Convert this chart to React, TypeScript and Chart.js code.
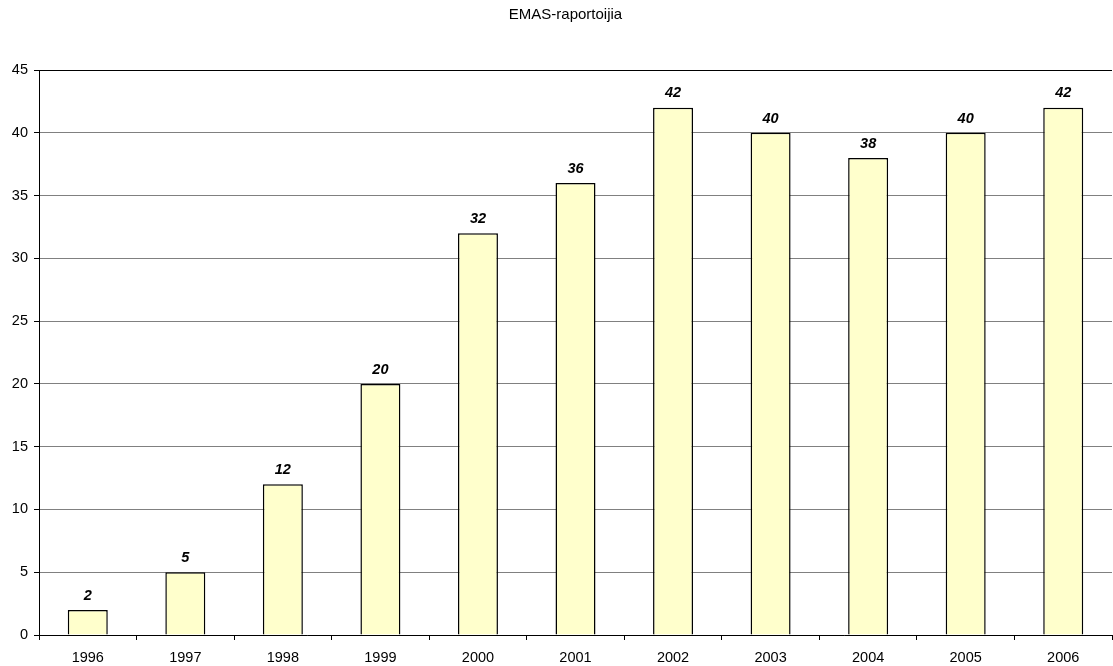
import React, { useEffect, useRef } from "react";
import { Chart, registerables } from "chart.js";

Chart.register(...registerables);

const title = "EMAS-raportoijia";
const years = ["1996", "1997", "1998", "1999", "2000", "2001", "2002", "2003", "2004", "2005", "2006"];
const reporters = [2, 5, 12, 20, 32, 36, 42, 40, 38, 40, 42];
const yTicks = [0, 5, 10, 15, 20, 25, 30, 35, 40, 45];

const FONT = "'Liberation Sans', Arial, sans-serif";

const valueLabels = {
  id: "valueLabels",
  afterDatasetsDraw(chart: any) {
    const ctx = chart.ctx;
    const meta = chart.getDatasetMeta(0);
    ctx.save();
    ctx.font = `italic bold 14.5px ${FONT}`;
    ctx.fillStyle = "#000";
    ctx.textAlign = "center";
    ctx.textBaseline = "bottom";
    meta.data.forEach((bar: any, i: number) => {
      ctx.fillText(String(reporters[i]), bar.x, bar.y - 7);
    });
    ctx.restore();
  },
};

const chartTitle = {
  id: "chartTitle",
  afterDraw(chart: any) {
    const ctx = chart.ctx;
    ctx.save();
    ctx.font = `15px ${FONT}`;
    ctx.fillStyle = "#000";
    ctx.textAlign = "center";
    ctx.textBaseline = "middle";
    ctx.fillText(title, 565.5, 14.5);
    ctx.restore();
  },
};

export default function App() {
  const ref = useRef<HTMLCanvasElement>(null);
  useEffect(() => {
    document.body.style.margin = "0";
    const chart = new Chart(ref.current!, {
      type: "bar",
      data: {
        labels: years,
        datasets: [
          {
            data: reporters,
            backgroundColor: "#FFFFCC",
            borderColor: "#000",
            borderWidth: 1.5,
            barPercentage: 0.41,
            categoryPercentage: 1,
          },
        ],
      },
      options: {
        animation: false,
        responsive: false,
        layout: { padding: { left: 0, right: 1, top: 70, bottom: 0 } },
        plugins: {
          legend: { display: false },
          tooltip: { enabled: false },
          title: { display: false },
        },
        scales: {
          x: {
            offset: true,
            grid: {
              offset: true,
              drawOnChartArea: false,
              drawTicks: true,
              tickLength: 5,
              tickColor: "#000",
            },
            border: { color: "#000", width: 1 },
            ticks: {
              color: "#000",
              font: { family: FONT, size: 14.5 },
              padding: 9,
              maxRotation: 0,
            },
            afterFit(scale: any) {
              scale.height = 31;
            },
          },
          y: {
            min: 0,
            max: 45,
            afterBuildTicks(scale: any) {
              scale.ticks = yTicks.map((v) => ({ value: v }));
            },
            grid: {
              color: (c: any) => (c.tick && c.tick.value === 45 ? "#000" : "#808080"),
              tickColor: "#000",
              tickLength: 5,
            },
            border: { color: "#000", width: 1 },
            ticks: {
              color: "#000",
              font: { family: FONT, size: 14.5 },
              padding: 6,
            },
            afterFit(scale: any) {
              scale.width = 39;
            },
          },
        },
      },
      plugins: [valueLabels, chartTitle],
    });
    return () => chart.destroy();
  }, []);
  return (
    <div style={{ position: "absolute", left: 0, top: 0, width: 1113, height: 666 }}>
      <canvas ref={ref} width={1113} height={666} />
    </div>
  );
}
